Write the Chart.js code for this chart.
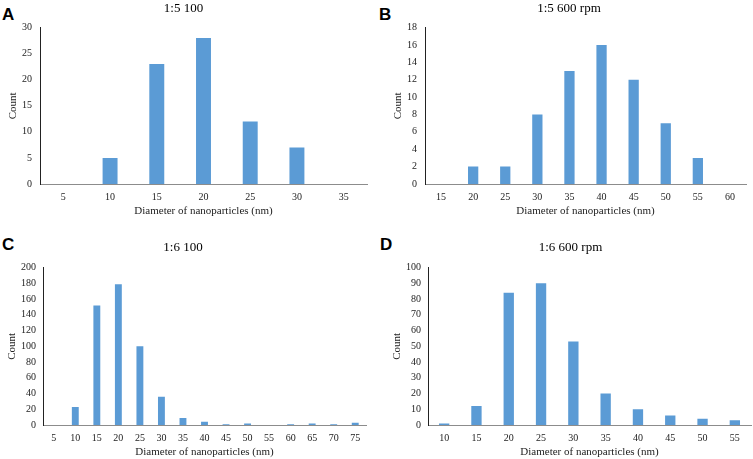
<!DOCTYPE html>
<html>
<head>
<meta charset="utf-8">
<script src="https://cdn.jsdelivr.net/npm/chart.js@4"></script>
<style>
  html, body { margin: 0; padding: 0; background: #fff; }
  body { width: 753px; height: 459px; position: relative; overflow: hidden; }
  .panel { position: absolute; }
  .letter { position: absolute; font-family: "Liberation Sans", Arial, sans-serif; font-weight: bold; font-size: 17px; line-height: 17px; color: #000; }
</style>
</head>
<body>
<div class="letter" style="left:2px; top:6px;">A</div>
<div class="letter" style="left:379px; top:6px;">B</div>
<div class="letter" style="left:2px; top:236px;">C</div>
<div class="letter" style="left:380px; top:236px;">D</div>

<div class="panel" style="left:0; top:0; width:376px; height:225px;"><canvas id="cA" width="376" height="225"></canvas></div>
<div class="panel" style="left:376px; top:0; width:377px; height:225px;"><canvas id="cB" width="377" height="225"></canvas></div>
<div class="panel" style="left:0; top:225px; width:376px; height:234px;"><canvas id="cC" width="376" height="234"></canvas></div>
<div class="panel" style="left:376px; top:225px; width:377px; height:234px;"><canvas id="cD" width="377" height="234"></canvas></div>

<script>
// ---- Data ----
const titleA = "1:5 100";
const catsA = ["5", "10", "15", "20", "25", "30", "35"];
const countsA = [0, 5, 23, 28, 12, 7, 0];
const yTicksA = { min: 0, max: 30, step: 5 };

const titleB = "1:5 600 rpm";
const catsB = ["15", "20", "25", "30", "35", "40", "45", "50", "55", "60"];
const countsB = [0, 2, 2, 8, 13, 16, 12, 7, 3, 0];
const yTicksB = { min: 0, max: 18, step: 2 };

const titleC = "1:6 100";
const catsC = ["5", "10", "15", "20", "25", "30", "35", "40", "45", "50", "55", "60", "65", "70", "75"];
const countsC = [0, 23, 152, 179, 100, 36, 9, 4, 1, 2, 0, 1, 2, 1, 3];
const yTicksC = { min: 0, max: 200, step: 20 };

const titleD = "1:6 600 rpm";
const catsD = ["10", "15", "20", "25", "30", "35", "40", "45", "50", "55"];
const countsD = [1, 12, 84, 90, 53, 20, 10, 6, 4, 3];
const yTicksD = { min: 0, max: 100, step: 10 };

const xTitle = "Diameter of nanoparticles (nm)";
const yTitle = "Count";

// ---- Styling / layout ----
const SERIF = "'Liberation Serif', 'Times New Roman', serif";
const BAR = "#5b9bd5";

function makeChart(id, title, cats, counts, yt, L) {
  new Chart(document.getElementById(id), {
    type: 'bar',
    data: {
      labels: cats,
      datasets: [{ data: counts, backgroundColor: BAR, borderWidth: 0,
                   barPercentage: 0.32, categoryPercentage: 1.0 }]
    },
    options: {
      responsive: false,
      animation: false,
      layout: { padding: { left: L.padLeft, right: L.padRight, top: 0, bottom: 0 } },
      plugins: {
        legend: { display: false },
        tooltip: { enabled: false },
        title: {
          display: true, text: title, color: '#000',
          font: { family: SERIF, size: 13, weight: 'normal' },
          padding: { top: L.titleTop, bottom: L.titleBottom }
        }
      },
      scales: {
        x: {
          grid: { display: false, drawTicks: false },
          border: { display: true, color: '#8c8c8c', width: 1 },
          ticks: { color: '#222', font: { family: SERIF, size: 10 }, padding: L.xTickPad, maxRotation: 0, autoSkip: false },
          title: { display: true, text: xTitle, color: '#222', font: { family: SERIF, size: 11 }, padding: { top: 0, bottom: L.xTitleBottom } },
          afterFit: (s) => { s.height = L.xHeight; }
        },
        y: {
          min: yt.min, max: yt.max,
          grid: { display: false, drawTicks: false },
          border: { display: true, color: '#222', width: 1 },
          ticks: { stepSize: yt.step, color: '#222', font: { family: SERIF, size: 10 }, padding: L.yTickPad },
          title: { display: true, text: yTitle, color: '#222', font: { family: SERIF, size: 11 }, padding: { top: L.yTitlePad, bottom: 0 } },
          afterFit: (s) => { s.width = L.yWidth; }
        }
      }
    }
  });
}

makeChart('cA', titleA, catsA, countsA, yTicksA,
  { padLeft: 0, padRight: 9, titleTop: 1, titleBottom: 11, xHeight: 41, xTickPad: 7, xTitleBottom: 7, yWidth: 40, yTickPad: 8, yTitlePad: 7 });
makeChart('cB', titleB, catsB, countsB, yTicksB,
  { padLeft: 16, padRight: 7, titleTop: 1, titleBottom: 11, xHeight: 41, xTickPad: 7, xTitleBottom: 7, yWidth: 33, yTickPad: 8, yTitlePad: 0 });
makeChart('cC', titleC, catsC, countsC, yTicksC,
  { padLeft: 0, padRight: 10, titleTop: 15, titleBottom: 12, xHeight: 34, xTickPad: 7, xTitleBottom: 0, yWidth: 43, yTickPad: 7, yTitlePad: 6 });
makeChart('cD', titleD, catsD, countsD, yTicksD,
  { padLeft: 14, padRight: 2, titleTop: 15, titleBottom: 12, xHeight: 34, xTickPad: 7, xTitleBottom: 0, yWidth: 38, yTickPad: 7, yTitlePad: 1 });
</script>
</body>
</html>
